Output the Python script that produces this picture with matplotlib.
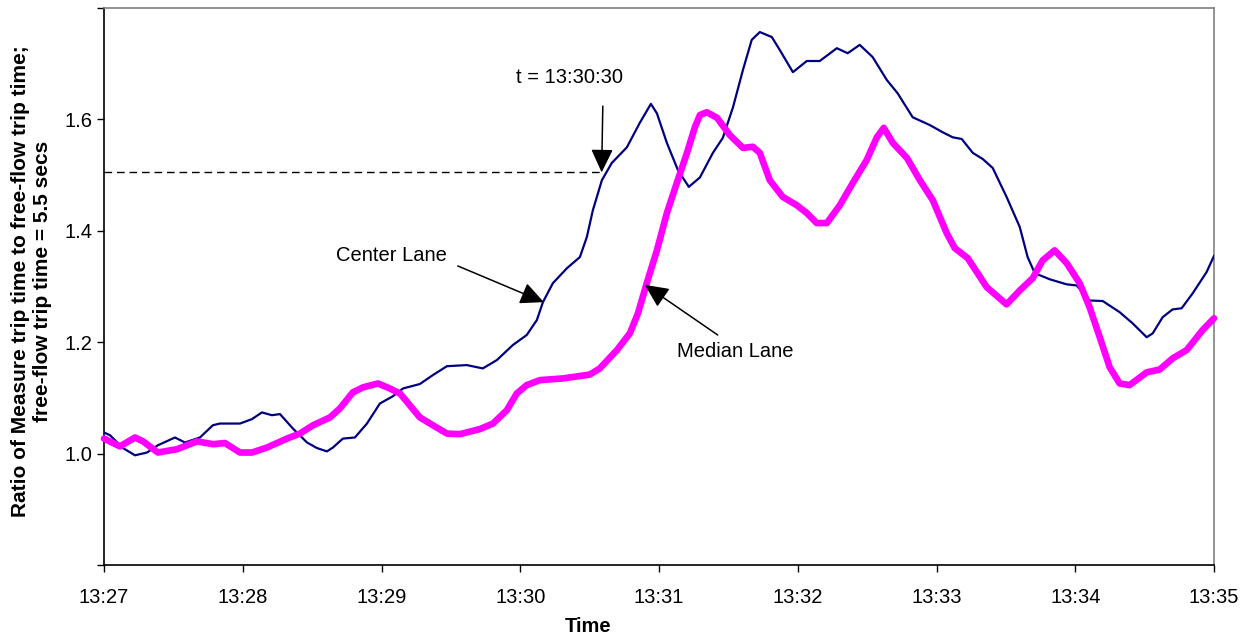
import matplotlib
matplotlib.use("Agg")
import matplotlib.pyplot as plt

plt.rcParams['font.family'] = ['Liberation Sans', 'DejaVu Sans']

# seconds after 13:27:00
center_t = [0, 2.6, 8.2, 13.4, 18.6, 23.3, 30.7, 35.0, 41.5, 47.1, 50.1, 58.8, 64.0, 68.3,
            72.6, 76.1, 81.7, 87.8, 92.1, 96.4, 99.0, 103.3, 108.5, 113.7, 119.3, 124.9,
            129.3, 136.6, 142.2, 148.3, 156.9, 163.8, 169.9, 176.8, 182.8, 187.2, 189.8,
            194.1, 200.2, 205.8, 208.8, 211.4, 215.3, 219.6, 226.1, 231.7, 236.5, 239.1,
            243.4, 248.2, 252.9, 257.7, 263.3, 267.6, 272.0, 276.3, 280.1, 283.6, 288.8,
            292.2, 297.9, 303.9, 309.5, 316.9, 321.6, 326.8, 332.4, 338.5, 343.2, 349.7,
            357.1, 362.7, 367.0, 370.9, 375.7, 380.0, 384.3, 390.3, 396.0, 399.4, 402.5,
            409.0, 416.3, 420.6, 426.2, 431.9, 439.2, 444.8, 450.9, 453.5, 457.8, 462.1,
            466.0, 470.8, 476.8, 480]
center_v = [1.038, 1.033, 1.010, 0.997, 1.002, 1.015, 1.029, 1.020, 1.029, 1.051, 1.054,
            1.054, 1.062, 1.074, 1.069, 1.071, 1.045, 1.020, 1.010, 1.004, 1.011, 1.027,
            1.029, 1.054, 1.090, 1.103, 1.117, 1.125, 1.141, 1.157, 1.159, 1.153, 1.168,
            1.195, 1.213, 1.240, 1.272, 1.306, 1.333, 1.353, 1.389, 1.437, 1.491, 1.522,
            1.550, 1.594, 1.628, 1.611, 1.558, 1.509, 1.479, 1.496, 1.540, 1.567, 1.622,
            1.689, 1.743, 1.757, 1.748, 1.725, 1.685, 1.705, 1.705, 1.728, 1.719, 1.734,
            1.712, 1.671, 1.647, 1.604, 1.590, 1.577, 1.568, 1.565, 1.540, 1.529, 1.513,
            1.461, 1.407, 1.353, 1.324, 1.313, 1.304, 1.302, 1.275, 1.274, 1.254, 1.234,
            1.209, 1.216, 1.245, 1.259, 1.261, 1.288, 1.326, 1.355]

median_t = [0, 6.9, 13.4, 16.9, 23.3, 31.6, 35.9, 40.2, 47.1, 52.3, 58.8, 64.0, 70.5, 79.1,
            84.7, 90.4, 97.7, 102.0, 107.6, 112.0, 118.5, 123.6, 128.0, 136.6, 142.2, 148.3,
            153.9, 162.5, 168.2, 174.2, 178.5, 182.8, 188.5, 198.4, 210.1, 214.4, 221.8,
            227.4, 230.9, 234.7, 239.1, 243.4, 247.7, 252.1, 255.5, 257.7, 260.7, 265.1,
            270.6, 276.3, 280.6, 283.6, 287.9, 293.5, 299.6, 303.9, 308.2, 312.6, 318.2,
            323.8, 329.8, 334.2, 337.2, 341.1, 347.2, 352.8, 358.4, 364.4, 367.9, 373.5,
            381.7, 390.3, 396.0, 401.6, 405.9, 411.1, 416.3, 421.9, 426.2, 430.6, 434.9,
            439.2, 443.5, 450.9, 456.5, 462.1, 468.2, 475.1, 480]
median_v = [1.027, 1.013, 1.029, 1.022, 1.002, 1.008, 1.015, 1.022, 1.017, 1.019, 1.002,
            1.002, 1.011, 1.027, 1.036, 1.051, 1.065, 1.081, 1.110, 1.119, 1.126, 1.117,
            1.108, 1.065, 1.051, 1.036, 1.035, 1.044, 1.054, 1.078, 1.108, 1.123, 1.132,
            1.135, 1.142, 1.153, 1.186, 1.216, 1.252, 1.306, 1.365, 1.432, 1.486, 1.540,
            1.586, 1.608, 1.613, 1.603, 1.572, 1.549, 1.551, 1.540, 1.491, 1.461, 1.446,
            1.432, 1.414, 1.414, 1.446, 1.486, 1.527, 1.568, 1.585, 1.558, 1.531, 1.491,
            1.455, 1.396, 1.369, 1.351, 1.299, 1.268, 1.293, 1.315, 1.347, 1.365, 1.342,
            1.306, 1.263, 1.209, 1.155, 1.126, 1.123, 1.146, 1.151, 1.171, 1.186, 1.222,
            1.243]

tick_secs = [0, 60, 120, 180, 240, 300, 360, 420, 480]
tick_labels = ['13:27', '13:28', '13:29', '13:30', '13:31', '13:32', '13:33', '13:34', '13:35']
y_ticks = [0.8, 1.0, 1.2, 1.4, 1.6, 1.8]
y_labels = ['', '1.0', '1.2', '1.4', '1.6', '']

# marker at t = 13:30:30 (dashed line + arrow)
ref_t = 215.2
ref_v = 1.505

fig = plt.figure(figsize=(12.5, 6.38), dpi=100)
ax = fig.add_axes([0.0832, 0.1144, 0.888, 0.8729])

ax.plot(center_t, center_v, color='#000080', lw=1.6, solid_joinstyle='round', zorder=3)
ax.plot(median_t, median_v, color='#ff00ff', lw=4.8, solid_joinstyle='round',
        solid_capstyle='round', zorder=4, clip_on=False)
ax.plot([0, ref_t], [ref_v, ref_v], color='black', lw=1.0, dashes=(5.5, 3.5), zorder=2)

ax.set_xlim(0, 480)
ax.set_ylim(0.8, 1.8)
ax.set_xticks(tick_secs)
ax.set_xticklabels(tick_labels)
ax.set_yticks(y_ticks)
ax.set_yticklabels(y_labels)
ax.tick_params(direction='out', length=5, width=1, labelsize=14.5, color='black')
ax.tick_params(axis='x', pad=11.5)
ax.tick_params(axis='y', pad=3.5)

for s in ['left', 'bottom']:
    ax.spines[s].set_color('black')
    ax.spines[s].set_linewidth(1.2)
for s in ['top', 'right']:
    ax.spines[s].set_color('#808080')
    ax.spines[s].set_linewidth(1.2)

arrow = dict(arrowstyle='-|>,head_length=0.72,head_width=0.34', color='black',
             lw=1.1, mutation_scale=20, shrinkA=0, shrinkB=0)
ax.annotate('', xy=(ref_t, ref_v), xytext=(215.7, 1.624), arrowprops=arrow, zorder=5)
ax.annotate('', xy=(190.2, 1.272), xytext=(153.0, 1.337), arrowprops=arrow, zorder=5)
ax.annotate('', xy=(233.9, 1.303), xytext=(265.4, 1.213), arrowprops=arrow, zorder=5)

ax.text(201.5, 1.676, 't = 13:30:30', fontsize=14.5, ha='center', va='center')
ax.text(124.3, 1.356, 'Center Lane', fontsize=14.5, ha='center', va='center')
ax.text(272.8, 1.184, 'Median Lane', fontsize=14.5, ha='center', va='center')

fig.text(0.0252, 0.5596,
         'Ratio of Measure trip time to free-flow trip time;\nfree-flow trip time = 5.5 secs',
         rotation=90, ha='center', va='center', multialignment='center',
         fontsize=15, fontweight='bold', linespacing=1.25)
fig.text(0.4704, 0.0188, 'Time', fontsize=14.5, fontweight='bold', ha='center', va='center')

fig.savefig('out.png', dpi=100)
